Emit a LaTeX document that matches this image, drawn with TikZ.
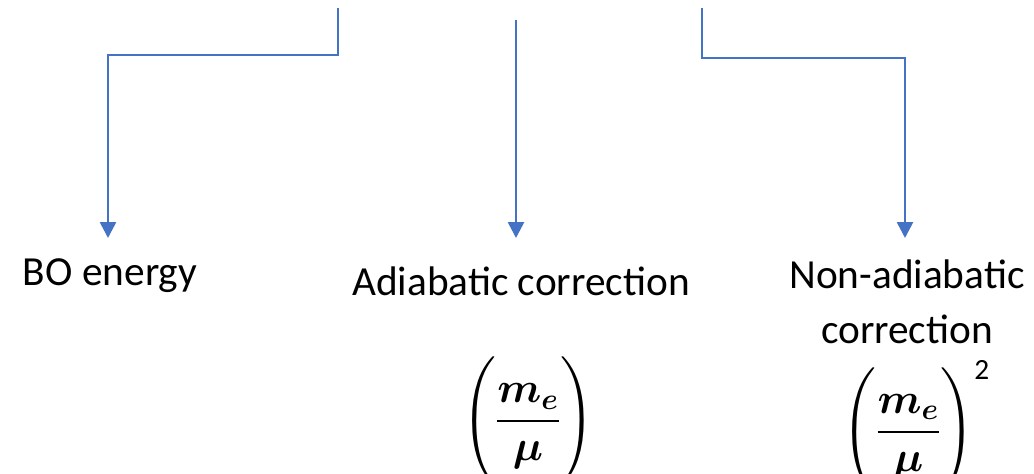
\RequirePackage{fix-cm}
\documentclass[tikz,border=0pt]{standalone}
\usepackage{amsmath,amssymb,bm}
\usepackage{fontspec}
\setmainfont{Carlito}
\usepackage{xcolor}
\usetikzlibrary{positioning,arrows.meta,calc}

\definecolor{connblue}{HTML}{4472C4}
% tall strut for the big brackets
\newcommand{\bigstrut}{\rule[-1.05em]{0pt}{2.6em}}

\begin{document}
\begin{tikzpicture}[
      x=0.75pt, y=-0.75pt,
      >={Triangle[length=12pt, width=12pt]},
      conn/.style={->, draw=connblue, line width=2pt, color=connblue},
      label/.style={font=\fontsize{31}{41}\selectfont, align=center, inner sep=0pt},
      order/.style={font=\fontsize{32}{38}\selectfont, inner sep=0pt},
    ]
    \useasboundingbox (0,0) rectangle (1034,474);

    % Terms
    \node[label] (bo) at (110,276) {BO energy};
    \node[label] (ad) at (521,281) {Adiabatic correction};
    \node[label] (na) at (907,302) {Non-adiabatic\\correction};

    % Orders of magnitude
    \node[order] (adord) at (528,421) {$\left(\bigstrut\dfrac{\bm{m_e}}{\bm{\mu}}\right)$};
    \node[order, anchor=west] (naord) at (842,428) {$\left(\bigstrut\dfrac{\bm{m_e}}{\bm{\mu}}\right)^{\text{\fontsize{22}{26}\selectfont 2}}$};

    % Free ends of the connectors
    \coordinate (s1) at (338,8);
    \coordinate (j1) at (108,55);
    \coordinate (s2) at (516,20);
    \coordinate (s3) at (702,8);
    \coordinate (j3) at (905,58);

    % Connectors
    \draw[conn] (s1) |- (j1) -- (j1 |- 0,238);
    \draw[conn] (s2) -- (s2 |- 0,238);
    \draw[conn] (s3) |- (j3) -- (j3 |- 0,238);
  \end{tikzpicture}
\end{document}
